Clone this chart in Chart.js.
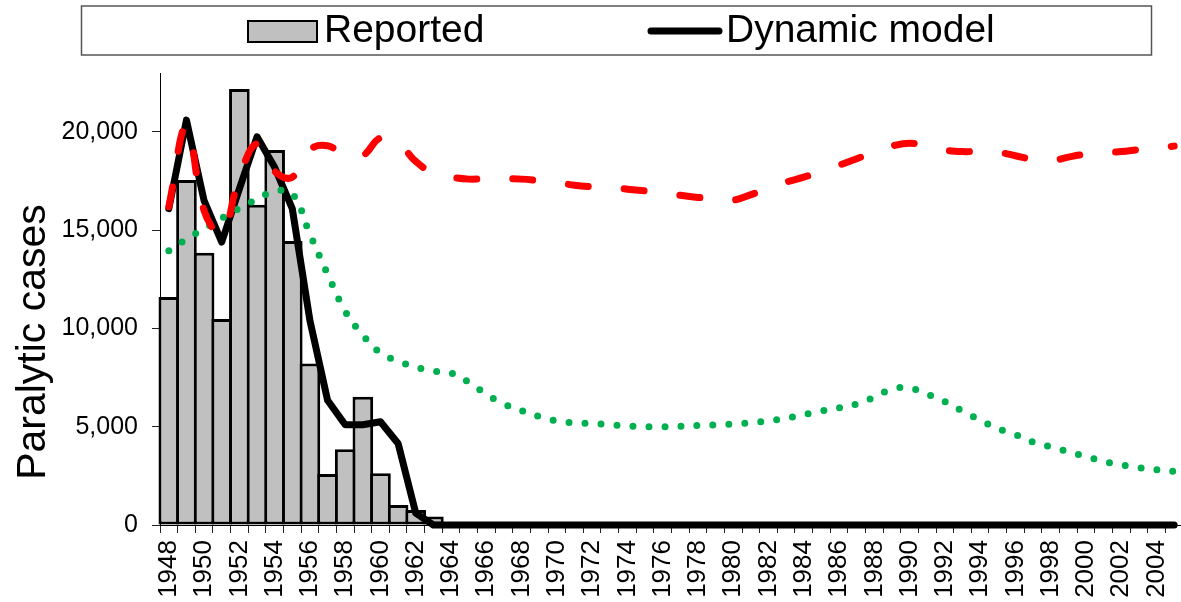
<!DOCTYPE html>
<html>
<head>
<meta charset="utf-8">
<script src="https://cdn.jsdelivr.net/npm/chart.js@4"></script>
<style>
html,body{margin:0;padding:0;background:#fff;overflow:hidden;width:1181px;height:602px}
canvas{display:block}
</style>
</head>
<body>
<canvas id="c" width="1183" height="602"></canvas>
<script>
const years = ['1948','1949','1950','1951','1952','1953','1954','1955','1956','1957',
  '1958','1959','1960','1961','1962','1963','1964','1965','1966','1967',
  '1968','1969','1970','1971','1972','1973','1974','1975','1976','1977',
  '1978','1979','1980','1981','1982','1983','1984','1985','1986','1987',
  '1988','1989','1990','1991','1992','1993','1994','1995','1996','1997',
  '1998','1999','2000','2001','2002','2003','2004','2005'];

const reported = [11600,17550,13850,10480,22180,16300,19080,14450,8220,2590,
  3850,6530,2630,1020,760,430,null,null,null,null,
  null,null,null,null,null,null,null,null,null,null,
  null,null,null,null,null,null,null,null,null,null,
  null,null,null,null,null,null,null,null,null,null,
  null,null,null,null,null,null,null,null];

const dynamicModel = [16100,20600,16500,14400,17100,19750,18200,16100,10400,6350,
  5100,5100,5250,4150,600,0,0,0,0,0,
  0,0,0,0,0,0,0,0,0,0,
  0,0,0,0,0,0,0,0,0,0,
  0,0,0,0,0,0,0,0,0,0,
  0,0,0,0,0,0,0,0];

const dashedSeries = [16200,20300,16000,14800,17700,19400,18000,17700,19100,19300,
  18800,18800,19700,19450,18500,17900,17700,17600,17620,17620,
  17600,17520,17420,17290,17210,17160,17090,17000,16910,16780,
  16670,16610,16530,16810,17140,17450,17700,18000,18310,18640,
  18970,19280,19430,19280,19075,19000,19010,18970,18790,18590,
  18520,18720,18870,18950,19000,19100,19180,19280];

const dottedSeries = [13950,14550,15080,15610,16120,16580,16990,16860,14800,12770,
  10880,9660,8750,8340,8040,7830,7730,7270,6660,6150,
  5820,5520,5300,5200,5170,5110,5040,5000,5000,5020,
  5060,5090,5140,5200,5300,5440,5620,5800,5960,6150,
  6510,6920,6970,6660,6280,5800,5340,4910,4600,4220,
  3980,3730,3480,3240,3060,2920,2810,2730];

const yTicks = [0,5000,10000,15000,20000];
const yTitle = 'Paralytic cases';
const FONT = '"Liberation Sans", Arial, sans-serif';

const legendPlugin = {
  id: 'boxLegend',
  afterDraw(chart) {
    const c = chart.ctx;
    const bar = chart.data.datasets[3];
    const ln = chart.data.datasets[2];
    c.save();
    c.strokeStyle = '#555';
    c.lineWidth = 1.5;
    c.strokeRect(81.5, 6, 1070, 49);
    c.fillStyle = bar.backgroundColor;
    c.fillRect(248, 21, 69, 21);
    c.strokeStyle = '#000';
    c.lineWidth = 2;
    c.strokeRect(248, 21, 69, 21);
    c.font = '39px ' + FONT;
    c.fillStyle = '#000';
    c.textBaseline = 'middle';
    c.textAlign = 'left';
    c.fillText(bar.label, 324, 31);
    c.strokeStyle = ln.borderColor;
    c.lineWidth = 7;
    c.lineCap = 'round';
    c.beginPath();
    c.moveTo(651, 31);
    c.lineTo(719, 31);
    c.stroke();
    c.fillText(ln.label, 726, 31);
    c.translate(34, 342);
    c.rotate(-Math.PI / 2);
    c.textAlign = 'center';
    c.font = '41px ' + FONT;
    c.fillText(yTitle, 0, 0);
    c.restore();
  }
};

new Chart(document.getElementById('c'), {
  type: 'bar',
  data: {
    labels: years,
    datasets: [
      {type: 'line', label: 'Model scenario (dashed)', data: dashedSeries, borderColor: '#FF0000',
       borderWidth: 7, borderDash: [20, 36], borderCapStyle: 'round', borderJoinStyle: 'round',
       tension: 0.4, pointRadius: 0, fill: false, order: 1, clip: false},
      {type: 'line', label: 'Model scenario (dotted)', data: dottedSeries, borderColor: '#00B050',
       borderWidth: 7, borderDash: [0, 16], borderCapStyle: 'round', borderJoinStyle: 'round',
       tension: 0.4, pointRadius: 0, fill: false, order: 2, clip: false},
      {type: 'line', label: 'Dynamic model', data: dynamicModel, borderColor: '#000000',
       borderWidth: 7, borderCapStyle: 'round', borderJoinStyle: 'round',
       tension: 0, pointRadius: 0, fill: false, order: 3, clip: false},
      {type: 'bar', label: 'Reported', data: reported, backgroundColor: '#C0C0C0',
       borderColor: '#000000', borderWidth: 3, borderSkipped: false,
       barPercentage: 1.17, categoryPercentage: 1, order: 4, clip: false}
    ]
  },
  options: {
    responsive: false,
    animation: false,
    devicePixelRatio: 1,
    layout: {padding: {top: 73, right: 0, left: 0, bottom: 0}},
    plugins: {legend: {display: false}, tooltip: {enabled: false}},
    scales: {
      x: {
        offset: true,
        grid: {offset: true, drawOnChartArea: false, drawTicks: true, tickLength: 8, color: '#222', lineWidth: 1},
        border: {display: true, color: '#000', width: 1},
        ticks: {autoSkip: false, maxRotation: 90, minRotation: 90, padding: 7, color: '#000',
                font: {family: FONT, size: 26},
                callback: (v, i) => (i % 2 === 0 ? years[i] : '')},
        afterFit: s => { s.height = 77; s.paddingLeft = 0; s.paddingRight = 0; }
      },
      y: {
        min: 0, max: 23000,
        afterBuildTicks: s => { s.ticks = yTicks.map(v => ({value: v})); },
        ticks: {padding: 14, color: '#000', font: {family: FONT, size: 25},
                callback: v => Number(v).toLocaleString('en-US')},
        grid: {drawOnChartArea: false, drawTicks: true, tickLength: 8, color: '#222', lineWidth: 1},
        border: {display: true, color: '#000', width: 1},
        afterFit: s => { s.width = 160; s.paddingTop = 0; s.paddingBottom = 0; }
      }
    }
  },
  plugins: [legendPlugin]
});
</script>
</body>
</html>
